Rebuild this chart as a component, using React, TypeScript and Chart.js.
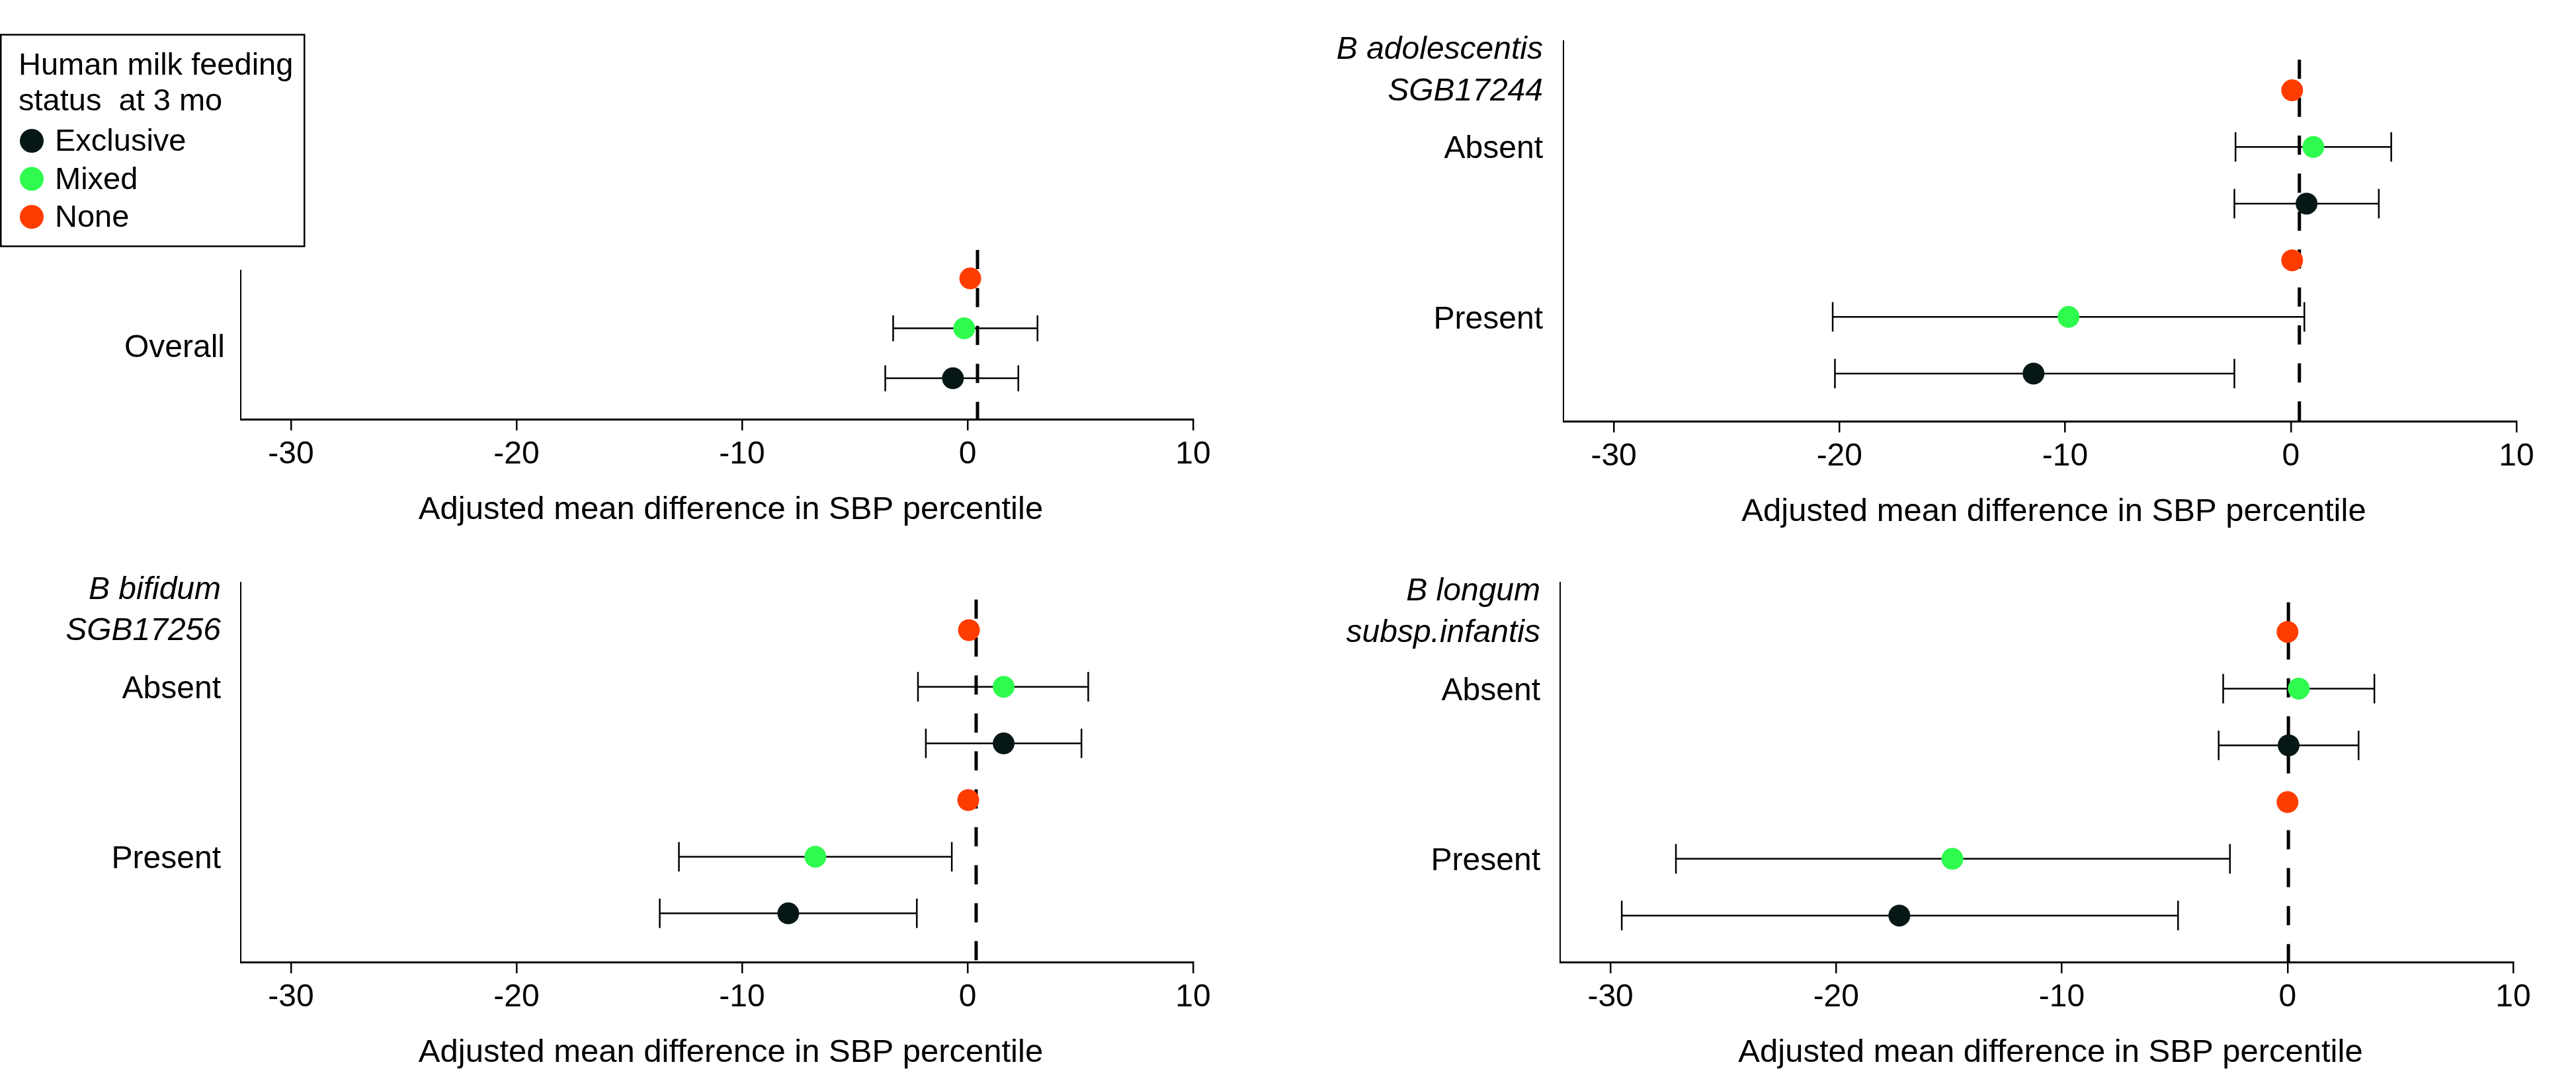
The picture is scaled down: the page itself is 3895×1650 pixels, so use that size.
import React, { useEffect, useRef } from 'react';
import { Chart, registerables } from 'chart.js';

Chart.register(...registerables);

const FONT = '"Liberation Sans", Arial, sans-serif';

// ---- shared series / axis definitions ----
const seriesNames = ['Exclusive', 'Mixed', 'None'];
const seriesColors = ['#061716', '#2EFB4E', '#FF3C00'];
const legendTitle = ['Human milk feeding', 'status  at 3 mo'];

const xTickValues = [-30, -20, -10, 0, 10];
const xAxisMin = -32.23;
const xAxisMax = 10;
const xAxisTitle = 'Adjusted mean difference in SBP percentile';

// ---- Panel 1: Overall ----
const overallTitle: string[] = [];
const overallGroups = ['Overall'];
const overallExclEst = [-0.65];
const overallExclLo = [-3.65];
const overallExclHi = [2.25];
const overallMixedEst = [-0.15];
const overallMixedLo = [-3.3];
const overallMixedHi = [3.1];
const overallNoneEst = [0.12];

// ---- Panel 2: B adolescentis SGB17244 ----
const adolTitle = ['B adolescentis', 'SGB17244'];
const adolGroups = ['Absent', 'Present'];
const adolExclEst = [0.7, -11.4];
const adolExclLo = [-2.5, -20.2];
const adolExclHi = [3.9, -2.5];
const adolMixedEst = [1.0, -9.85];
const adolMixedLo = [-2.45, -20.3];
const adolMixedHi = [4.45, 0.6];
const adolNoneEst = [0.06, 0.06];

// ---- Panel 3: B bifidum SGB17256 ----
const bifTitle = ['B bifidum', 'SGB17256'];
const bifGroups = ['Absent', 'Present'];
const bifExclEst = [1.6, -7.95];
const bifExclLo = [-1.85, -13.65];
const bifExclHi = [5.05, -2.25];
const bifMixedEst = [1.6, -6.75];
const bifMixedLo = [-2.2, -12.8];
const bifMixedHi = [5.35, -0.7];
const bifNoneEst = [0.06, 0.03];

// ---- Panel 4: B longum subsp. infantis ----
const lonTitle = ['B longum', 'subsp.infantis'];
const lonGroups = ['Absent', 'Present'];
const lonExclEst = [0.05, -17.2];
const lonExclLo = [-3.05, -29.5];
const lonExclHi = [3.15, -4.85];
const lonMixedEst = [0.5, -14.85];
const lonMixedLo = [-2.85, -27.1];
const lonMixedHi = [3.85, -2.55];
const lonNoneEst = [0.0, 0.0];

// dashed reference line position per panel
const referenceLineX = [0.44, 0.38, 0.38, 0.04];

// ---- layout (not data) ----
const panelLayouts = [
  { left: 0, top: 0, width: 1920, height: 825, padTop: 409, yAxisW: 364, padRight: 116, xAxisH: 191, yMin: -0.82, yMax: 2.16, dashTop: 2.57, labelGap: 24, groupLabelRow: 0.65, legend: true },
  { left: 1920, top: 0, width: 1975, height: 825, padTop: 62, yAxisW: 444, padRight: 90, xAxisH: 188, yMin: -0.84, yMax: 5.87, dashTop: 5.54, labelGap: 31, groupLabelRow: 1, legend: false },
  { left: 0, top: 825, width: 1920, height: 825, padTop: 56, yAxisW: 364, padRight: 116, xAxisH: 195, yMin: -0.86, yMax: 5.84, dashTop: 5.54, labelGap: 30, groupLabelRow: 1, legend: false },
  { left: 1920, top: 825, width: 1975, height: 825, padTop: 56, yAxisW: 439, padRight: 95, xAxisH: 195, yMin: -0.82, yMax: 5.87, dashTop: 5.52, labelGap: 30, groupLabelRow: 1, legend: false },
];

const panelSpecs = [
  { title: overallTitle, groups: overallGroups, excl: [overallExclEst, overallExclLo, overallExclHi], mixed: [overallMixedEst, overallMixedLo, overallMixedHi], none: overallNoneEst, refX: referenceLineX[0], layout: panelLayouts[0] },
  { title: adolTitle, groups: adolGroups, excl: [adolExclEst, adolExclLo, adolExclHi], mixed: [adolMixedEst, adolMixedLo, adolMixedHi], none: adolNoneEst, refX: referenceLineX[1], layout: panelLayouts[1] },
  { title: bifTitle, groups: bifGroups, excl: [bifExclEst, bifExclLo, bifExclHi], mixed: [bifMixedEst, bifMixedLo, bifMixedHi], none: bifNoneEst, refX: referenceLineX[2], layout: panelLayouts[2] },
  { title: lonTitle, groups: lonGroups, excl: [lonExclEst, lonExclLo, lonExclHi], mixed: [lonMixedEst, lonMixedLo, lonMixedHi], none: lonNoneEst, refX: referenceLineX[3], layout: panelLayouts[3] },
];

const CAP_HALF_ROWS = 0.26;
const LABEL_SIZE = 48;

function makePlugin(spec: any) {
  const L = spec.layout;
  const nG = spec.groups.length;
  return {
    id: 'forest',
    beforeDatasetsDraw(chart: any) {
      const { ctx, chartArea } = chart;
      const xs = chart.scales.x;
      const ys = chart.scales.y;
      ctx.save();
      // dashed reference line
      ctx.strokeStyle = '#000';
      ctx.lineWidth = 5;
      ctx.setLineDash([29, 28.4]);
      const rx = xs.getPixelForValue(spec.refX);
      ctx.beginPath();
      ctx.moveTo(rx, ys.getPixelForValue(L.dashTop));
      ctx.lineTo(rx, chartArea.bottom);
      ctx.stroke();
      ctx.setLineDash([]);
      // confidence intervals
      ctx.lineWidth = 2.5;
      for (const ds of chart.data.datasets) {
        for (const p of ds.data) {
          if (p.lo == null || p.hi == null) continue;
          const yy = ys.getPixelForValue(p.y);
          const cap = Math.abs(ys.getPixelForValue(p.y + CAP_HALF_ROWS) - yy);
          const x1 = xs.getPixelForValue(p.lo);
          const x2 = xs.getPixelForValue(p.hi);
          ctx.beginPath();
          ctx.moveTo(x1, yy);
          ctx.lineTo(x2, yy);
          ctx.moveTo(x1, yy - cap);
          ctx.lineTo(x1, yy + cap);
          ctx.moveTo(x2, yy - cap);
          ctx.lineTo(x2, yy + cap);
          ctx.stroke();
        }
      }
      ctx.restore();
    },
    afterDraw(chart: any) {
      const { ctx, chartArea } = chart;
      const ys = chart.scales.y;
      const capMid = LABEL_SIZE * 0.716 / 2;
      ctx.save();
      ctx.fillStyle = '#000';
      ctx.textAlign = 'right';
      ctx.textBaseline = 'alphabetic';
      const lx = chartArea.left - L.labelGap;
      // group labels
      ctx.font = `${LABEL_SIZE}px ${FONT}`;
      spec.groups.forEach((g: string, gi: number) => {
        const row = (nG - 1 - gi) * 3 + L.groupLabelRow;
        ctx.fillText(g, lx, ys.getPixelForValue(row) + capMid);
      });
      // italic panel titles
      ctx.font = `italic ${LABEL_SIZE}px ${FONT}`;
      const titleRows = [(nG - 1) * 3 + 2.75, (nG - 1) * 3 + 2.02];
      spec.title.forEach((t: string, ti: number) => {
        ctx.fillText(t, lx, ys.getPixelForValue(titleRows[ti]) + capMid);
      });
      // x axis title
      ctx.font = `49px ${FONT}`;
      ctx.textAlign = 'center';
      ctx.fillText(xAxisTitle, (chartArea.left + chartArea.right) / 2 + 21, chartArea.bottom + 151);
      // legend
      if (L.legend) {
        ctx.lineWidth = 2.5;
        ctx.strokeStyle = '#000';
        ctx.strokeRect(1.25, 52.5, 459, 320);
        ctx.textAlign = 'left';
        ctx.font = `47px ${FONT}`;
        ctx.fillText(legendTitle[0], 28, 113);
        ctx.fillText(legendTitle[1], 28, 167);
        chart.data.datasets.forEach((ds: any, i: number) => {
          const base = 228 + i * 57.5;
          ctx.fillStyle = ds.backgroundColor;
          ctx.beginPath();
          ctx.arc(48, base - 15, 18, 0, Math.PI * 2);
          ctx.fill();
          ctx.fillStyle = '#000';
          ctx.fillText(ds.label, 83, base);
        });
      }
      ctx.restore();
    },
  };
}

function buildConfig(spec: any): any {
  const L = spec.layout;
  const nG = spec.groups.length;
  const rowOf = (g: number, s: number) => (nG - 1 - g) * 3 + s;
  const series = [
    { est: spec.excl[0], lo: spec.excl[1], hi: spec.excl[2] },
    { est: spec.mixed[0], lo: spec.mixed[1], hi: spec.mixed[2] },
    { est: spec.none, lo: null, hi: null },
  ];
  const datasets = series.map((se: any, s: number) => ({
    label: seriesNames[s],
    data: se.est.map((v: number, g: number) => ({
      x: v,
      y: rowOf(g, s),
      lo: se.lo ? se.lo[g] : null,
      hi: se.hi ? se.hi[g] : null,
    })),
    backgroundColor: seriesColors[s],
    borderColor: seriesColors[s],
    borderWidth: 0,
    pointRadius: 16.5,
    pointHoverRadius: 16.5,
    clip: false,
  }));
  return {
    type: 'scatter',
    data: { datasets },
    options: {
      responsive: false,
      animation: false,
      devicePixelRatio: 1,
      events: [],
      layout: { padding: { left: 0, top: L.padTop, right: L.padRight, bottom: 0 } },
      plugins: { legend: { display: false }, tooltip: { enabled: false }, title: { display: false } },
      scales: {
        x: {
          type: 'linear',
          position: 'bottom',
          min: xAxisMin,
          max: xAxisMax,
          afterBuildTicks: (s: any) => {
            s.ticks = xTickValues.map((v) => ({ value: v }));
          },
          afterFit: (s: any) => {
            s.height = L.xAxisH;
          },
          grid: {
            display: true,
            drawOnChartArea: false,
            drawTicks: true,
            tickLength: 17,
            tickWidth: 2.5,
            lineWidth: 2.5,
            tickColor: '#000',
            color: '#000',
          },
          border: { display: true, color: '#000', width: 3 },
          ticks: {
            color: '#000',
            font: { family: FONT, size: 48 },
            padding: 8,
            maxRotation: 0,
            minRotation: 0,
            autoSkip: false,
            callback: (v: any) => String(v),
          },
        },
        y: {
          type: 'linear',
          position: 'left',
          min: L.yMin,
          max: L.yMax,
          afterFit: (s: any) => {
            s.width = L.yAxisW;
          },
          grid: { display: false, drawTicks: false },
          border: { display: true, color: '#000', width: 2 },
          ticks: { display: false },
        },
      },
    },
    plugins: [makePlugin(spec)],
  };
}

function Panel({ spec }: { spec: any }) {
  const ref = useRef<HTMLCanvasElement>(null);
  useEffect(() => {
    const chart = new Chart(ref.current as HTMLCanvasElement, buildConfig(spec));
    return () => chart.destroy();
  }, [spec]);
  const L = spec.layout;
  return (
    <canvas
      ref={ref}
      width={L.width}
      height={L.height}
      style={{ position: 'absolute', left: L.left, top: L.top, width: L.width, height: L.height }}
    />
  );
}

export default function App() {
  return (
    <div style={{ position: 'absolute', left: 0, top: 0, width: 3895, height: 1650, background: '#fff', overflow: 'hidden' }}>
      {panelSpecs.map((spec, i) => (
        <Panel key={i} spec={spec} />
      ))}
    </div>
  );
}
